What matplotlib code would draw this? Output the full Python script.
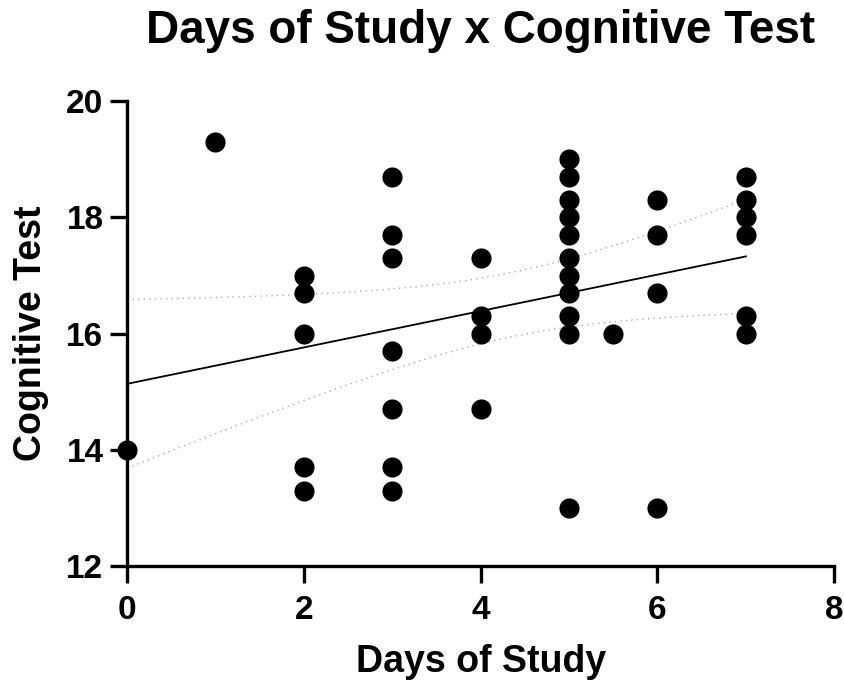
import numpy as np
import matplotlib
matplotlib.use("Agg")
import matplotlib.pyplot as plt

plt.rcParams["font.family"] = ["Liberation Sans", "DejaVu Sans"]
plt.rcParams["font.weight"] = "bold"

# days of study per subject and cognitive test score
days = [0, 1,
        2, 2, 2, 2, 2,
        3, 3, 3, 3, 3, 3, 3,
        4, 4, 4, 4,
        5, 5, 5, 5, 5, 5, 5, 5, 5, 5, 5,
        5.5,
        6, 6, 6, 6,
        7, 7, 7, 7, 7, 7]
scores = [14.0, 19.3,
          17.0, 16.7, 16.0, 13.7, 13.3,
          18.7, 17.7, 17.3, 15.7, 14.7, 13.7, 13.3,
          17.3, 16.3, 16.0, 14.7,
          19.0, 18.7, 18.3, 18.0, 17.7, 17.3, 17.0, 16.7, 16.3, 16.0, 13.0,
          16.0,
          18.3, 17.7, 16.7, 13.0,
          18.7, 18.3, 18.0, 17.7, 16.3, 16.0]

x = np.array(days, dtype=float)
y = np.array(scores, dtype=float)

# linear fit + 95% confidence band
slope, intercept = np.polyfit(x, y, 1)
n = len(x)
resid = y - (slope * x + intercept)
s = np.sqrt(np.sum(resid ** 2) / (n - 2))
sxx = np.sum((x - x.mean()) ** 2)
t_crit = 2.024  # t(0.975, df=38)
xs = np.linspace(x.min(), x.max(), 100)
yfit = slope * xs + intercept
half = t_crit * s * np.sqrt(1 / n + (xs - x.mean()) ** 2 / sxx)

fig = plt.figure(figsize=(8.44, 6.83), dpi=100)
ax = fig.add_axes([0.1505, 0.171, 0.838, 0.681])

ax.scatter(x, y, s=210, color="black", zorder=3, clip_on=False, linewidths=0)
ax.plot(xs, yfit, color="black", lw=1.3, zorder=2)
ax.plot(xs, yfit + half, color="#aaaaaa", lw=1.0, ls=(0, (1, 3)), zorder=1)
ax.plot(xs, yfit - half, color="#aaaaaa", lw=1.0, ls=(0, (1, 3)), zorder=1)

ax.set_xlim(0, 8)
ax.set_ylim(12, 20)
ax.set_xticks([0, 2, 4, 6, 8])
ax.set_yticks([12, 14, 16, 18, 20])

for side in ["top", "right"]:
    ax.spines[side].set_visible(False)
for side in ["left", "bottom"]:
    ax.spines[side].set_linewidth(2.4)
ax.tick_params(width=2.4, length=12, labelsize=24)
ax.tick_params(axis="x", pad=9)
ax.tick_params(axis="y", pad=5)
for lbl in ax.get_xticklabels() + ax.get_yticklabels():
    lbl.set_fontweight("bold")

ax.set_xlabel("Days of Study", fontsize=27, fontweight="bold", labelpad=13)
ax.set_ylabel("Cognitive Test", fontsize=27, fontweight="bold", labelpad=12)
fig.suptitle("Days of Study x Cognitive Test", fontsize=33, fontweight="bold",
             x=0.569, y=0.987)

fig.savefig("out.png", dpi=100)
